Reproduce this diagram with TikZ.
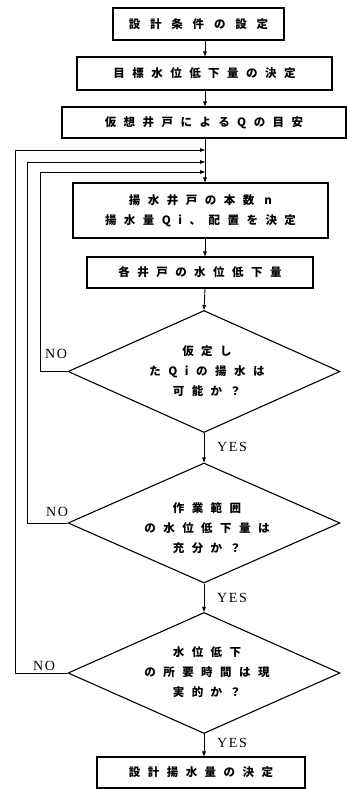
\documentclass[tikz,border=0pt]{standalone}
\usepackage{fontspec}
\newfontfamily\jp{Noto Sans CJK JP}
\newfontfamily\lab{Liberation Serif}
\usetikzlibrary{shapes.geometric,arrows.meta}
\begin{document}
\begin{tikzpicture}[x=1pt,y=-1pt,
  box/.style={draw,line width=1.1pt,inner sep=0pt},
  dia/.style={diamond,draw,line width=1.1pt,inner sep=0pt,minimum width=272pt,minimum height=122pt},
  jt/.style={font=\jp\bfseries\fontsize{11.5}{20}\selectfont\addfontfeatures{LetterSpace=65}},
  jtw/.style={font=\jp\bfseries\fontsize{11.5}{20}\selectfont\addfontfeatures{LetterSpace=85}},
  yn/.style={font=\lab\fontsize{14}{16}\selectfont\addfontfeatures{LetterSpace=12},inner sep=0pt},
  arr/.style={-{Triangle[length=5pt,width=3.6pt]},line width=0.9pt}]
\useasboundingbox (0,0) rectangle (347,789);
\coordinate (sp) at (205,0);
\coordinate (l1) at (40,0);
\coordinate (l2) at (27,0);
\coordinate (l3) at (15,0);
\coordinate (j1) at (205,172);
\coordinate (j2) at (205,162);
\coordinate (j3) at (205,150);

\node[box,jtw,minimum width=171pt,minimum height=32pt] (b1) at (198.5,24) {設計条件の設定};
\node[box,jt,minimum width=255pt,minimum height=33pt] (b2) at (204.5,73.5) {目標水位低下量の決定};
\node[box,jt,minimum width=284pt,minimum height=31pt] (b3) at (204,122.5) {仮想井戸によるQの目安};
\node[box,jt,align=center,minimum width=255pt,minimum height=55pt] (b4) at (200.5,210.5) {揚水井戸の本数 n\\揚水量Qi、配置を決定};
\node[box,jt,minimum width=226pt,minimum height=31pt] (b5) at (200,272.5) {各井戸の水位低下量};
\node[dia] (d1) at (204,371.5) {};
\node[dia,minimum height=120pt] (d2) at (204,523) {};
\node[dia,minimum height=121pt] (d3) at (204,673) {};
\node[box,jt,minimum width=208pt,minimum height=31pt] (b6) at (201,772.5) {設計揚水量の決定};

\node[jt,align=center] (t1) at (207,371) {仮定し\\たQiの揚水は\\可能か？};
\node[jt,align=center] (t2) at (207,528) {作業範囲\\の水位低下量は\\充分か？};
\node[jt,align=center] (t3) at (207,672) {水位低下\\の所要時間は現\\実的か？};

\node[yn] (y1) at (232,447) {YES};
\node[yn] (y2) at (232,598) {YES};
\node[yn] (y3) at (232,743) {YES};
\node[yn] (n1) at (56,354) {NO};
\node[yn] (n2) at (57,512) {NO};
\node[yn] (n3) at (44,666) {NO};

\draw[arr] (b1.south -| sp) -- (b2.north -| sp);
\draw[arr] (b2.south -| sp) -- (b3.north -| sp);
\draw[arr] (b3.south -| sp) -- (b4.north -| sp);
\draw[arr] (b4.south -| sp) -- (b5.north -| sp);
\draw[arr] (b5.south -| sp) -- (d1.north);
\draw[arr] (d1.south) -- (d2.north);
\draw[arr] (d2.south) -- (d3.north);
\draw[arr] (d3.south) -- (b6.north -| d3.south);

\draw[arr] (d1.west) -- (d1.west -| l1) |- (j1);
\draw[arr] (d2.west) -- (d2.west -| l2) |- (j2);
\draw[arr] (d3.west) -- (d3.west -| l3) |- (j3);
\end{tikzpicture}
\end{document}
